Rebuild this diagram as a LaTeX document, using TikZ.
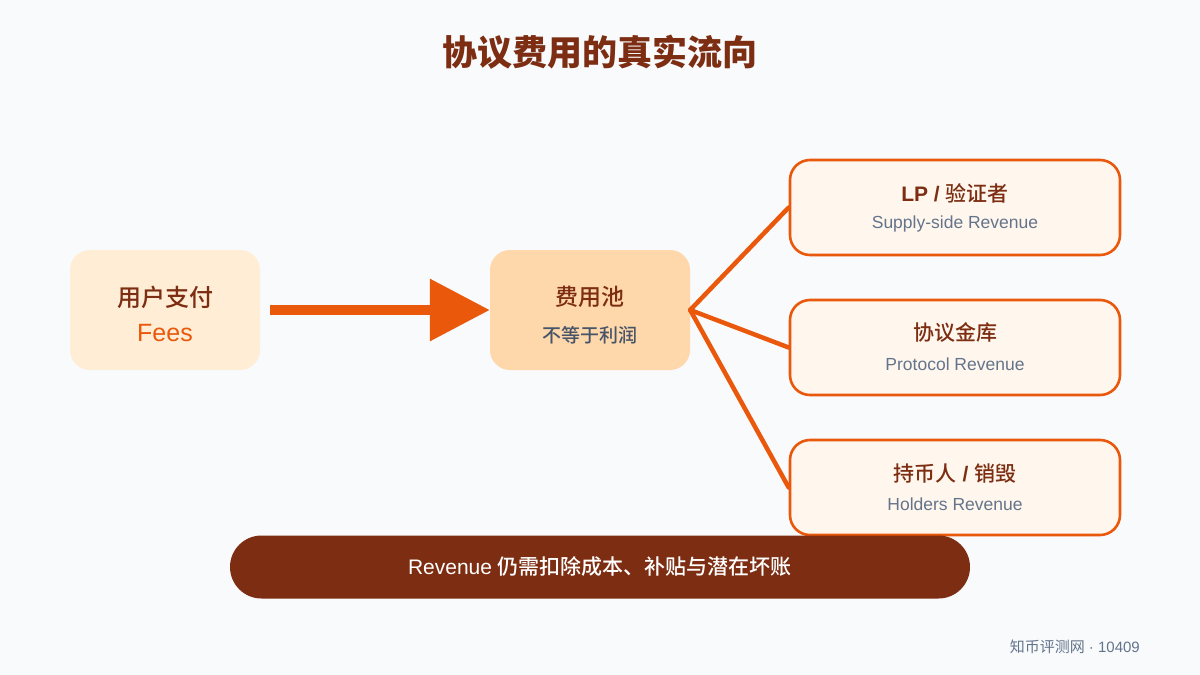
\documentclass[tikz,border=0pt]{standalone}
\usepackage{fontspec}
\setmainfont{Noto Sans CJK SC}
\newfontfamily\med{Noto Sans CJK SC Medium}
\newfontfamily\lat{Liberation Sans}
\usetikzlibrary{arrows.meta}
\definecolor{bg}{HTML}{F8FAFC}
\definecolor{brown}{HTML}{7C2D12}
\definecolor{orange}{HTML}{EA580C}
\definecolor{fillA}{HTML}{FFEDD5}
\definecolor{fillB}{HTML}{FED7AA}
\definecolor{fillC}{HTML}{FFF7ED}
\definecolor{slate}{HTML}{64748B}
\definecolor{slatedark}{HTML}{475569}
\tikzset{
  softbox/.style={rounded corners=20pt, minimum width=190pt, minimum height=120pt, inner sep=0pt},
  outbox/.style={rounded corners=20pt, draw=orange, line width=2.6pt, fill=fillC, minimum width=330pt, minimum height=95pt, inner sep=0pt},
  maintxt/.style={text=brown, font=\med\fontsize{21}{25}\selectfont},
  subtxt/.style={text=slate, font=\lat\fontsize{17.5}{20}\selectfont},
  branch/.style={draw=orange, line width=4.5pt, line cap=round},
}
\begin{document}
\begin{tikzpicture}[x=1pt,y=-1pt]
\fill[bg] (0,0) rectangle (1200,675);
\useasboundingbox (0,0) rectangle (1200,675);
% title
\node[text=brown, font=\fontsize{35}{40}\selectfont\bfseries] (title) at (600,52) {协议费用的真实流向};
% left node
\node[softbox, fill=fillA] (fees) at (165,310) {};
\node[text=brown, font=\med\fontsize{24}{28}\selectfont] (feesT) at (165,297) {用户支付};
\node[text=orange, font=\lat\fontsize{25}{29}\selectfont] (feesS) at (165,333) {Fees};
% center node
\node[softbox, fill=fillB, minimum width=200pt] (pool) at (590,310) {};
\node[text=brown, font=\med\fontsize{23}{27}\selectfont] (poolT) at (590,297) {费用池};
\node[text=slatedark, font=\med\fontsize{19}{22}\selectfont] (poolS) at (590,335) {不等于利润};
% arrow
\draw[orange, line width=10pt, -{Triangle[length=60pt,width=60pt]}, shorten <=10pt] (fees.east) -- (pool.west);
% right nodes
\node[outbox] (lp) at (955,207.5) {};
\node[maintxt] (lpT) at (955,193) {{\lat\bfseries LP / }验证者};
\node[subtxt] (lpS) at (955,224) {Supply-side Revenue};
\node[outbox] (pr) at (955,347.5) {};
\node[maintxt] (prT) at (955,333) {协议金库};
\node[subtxt] (prS) at (955,364) {Protocol Revenue};
\node[outbox] (ho) at (955,487.5) {};
\node[maintxt] (hoT) at (955,473) {持币人{\lat\bfseries\ / }销毁};
\node[subtxt] (hoS) at (955,504) {Holders Revenue};
% branches
\draw[branch] (pool.east) -- (lp.west);
\draw[branch] (pool.east) -- (pr.west);
\draw[branch] (pool.east) -- (ho.west);
% bottom bar
\node[fill=brown, rounded corners=31.5pt, minimum width=740pt, minimum height=63pt, inner sep=0pt, text=white, font=\med\fontsize{21}{25}\selectfont] (bar) at (600,567) {{\lat Revenue }仍需扣除成本、补贴与潜在坏账};
% footer
\node[anchor=east, text=slate, font=\fontsize{15}{18}\selectfont, inner sep=0pt] (footer) at (1140,647) {知币评测网{\lat\ · 10409}};
\end{tikzpicture}
\end{document}
